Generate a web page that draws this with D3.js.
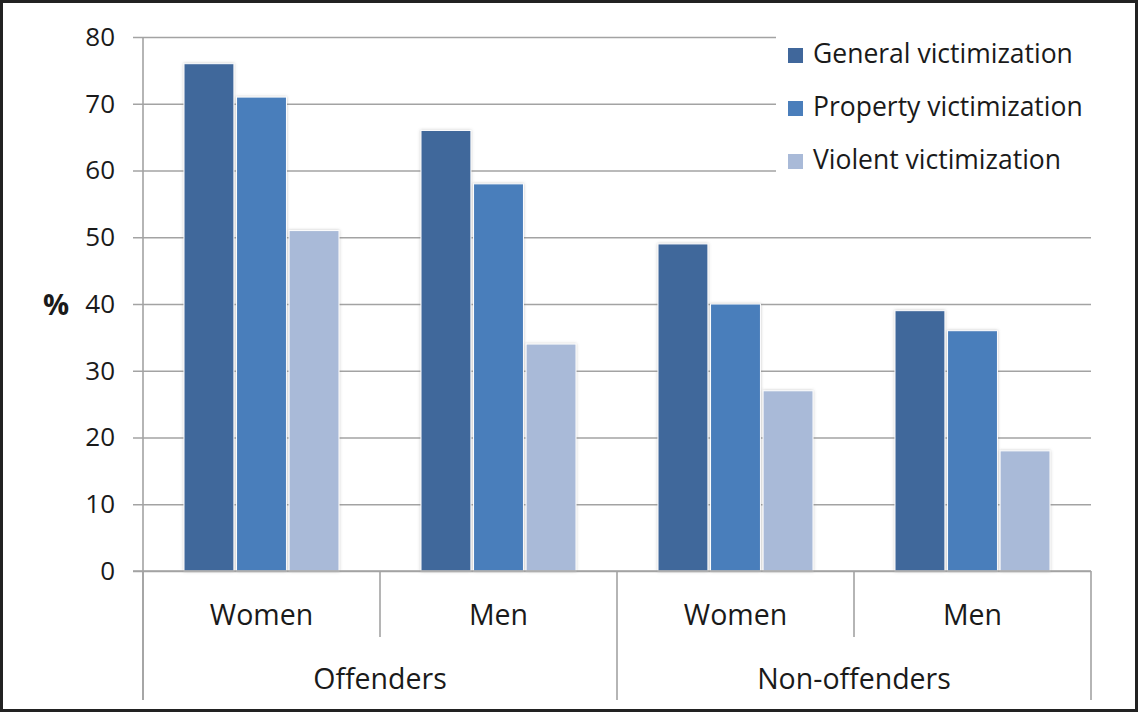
<!DOCTYPE html>
<html>
<head>
<meta charset="utf-8">
<script src="https://cdn.jsdelivr.net/npm/d3@7"></script>
<style>
  html, body { margin: 0; padding: 0; background: #fff; }
  svg { display: block; }
  text { font-family: "Open Sans", "Noto Sans", sans-serif; fill: #1a1a1a; }
</style>
</head>
<body>
<svg id="chart" width="1139" height="713"></svg>
<script>
// Victimization rates (%) by offender status and sex
const groups = ["Offenders", "Non-offenders"];
const sexes = ["Women", "Men"];
const series = ["General victimization", "Property victimization", "Violent victimization"];
const generalValues = [76, 66, 49, 39];
const propertyValues = [71, 58, 40, 36];
const violentValues = [51, 34, 27, 18];
const yTicks = [0, 10, 20, 30, 40, 50, 60, 70, 80];
const colors = ["#40679b", "#4a7ebb", "#a9bad8"];

const seriesValues = [generalValues, propertyValues, violentValues];
// one entry per group/sex column
const columns = [];
groups.forEach((g, gi) => sexes.forEach((s, si) => columns.push({ id: g + "|" + s, group: g, sex: s, idx: gi * sexes.length + si })));

const svg = d3.select("#chart");

// frame around the figure
svg.append("rect")
  .attr("x", 1.5).attr("y", 1.5).attr("width", 1135).attr("height", 709)
  .attr("fill", "#fff").attr("stroke", "#222").attr("stroke-width", 3);

const defs = svg.append("defs");
const shadow = defs.append("filter").attr("id", "barShadow")
  .attr("x", "-10%").attr("y", "-10%").attr("width", "120%").attr("height", "120%");
shadow.append("feDropShadow").attr("dx", 0).attr("dy", 0).attr("stdDeviation", 1.6)
  .attr("flood-color", "#7a7a7a").attr("flood-opacity", 0.45);

const plotLeft = 143, plotRight = 1091, plotTop = 37, plotBottom = 571;

const x0 = d3.scaleBand().domain(columns.map(c => c.id)).range([plotLeft, plotRight]).padding(0);
const x1 = d3.scaleBand().domain(series).range([41, x0.bandwidth() - 41]).paddingInner(0.05);
const y = d3.scaleLinear().domain([0, 80]).range([plotBottom, plotTop]);

const gridColor = "#a3a3a3";

// gridlines + y ticks
const yAxis = d3.axisLeft(y).tickValues(yTicks).tickSize(-(plotRight - plotLeft)).tickSizeOuter(0).tickPadding(28);
const yg = svg.append("g").attr("transform", `translate(${plotLeft},0)`).call(yAxis);
yg.select(".domain").remove();
yg.selectAll(".tick line")
  .attr("x1", -10)
  .attr("stroke", gridColor).attr("stroke-width", 1.6);
yg.selectAll(".tick text")
  .attr("font-size", 26).style("font-family", "'Open Sans', sans-serif").attr("fill", "#1a1a1a");

// "%" axis title
svg.append("text").attr("x", 56).attr("y", 315).attr("text-anchor", "middle")
  .attr("font-size", 29).attr("font-weight", "bold").text("%");

// legend backdrop hides gridlines behind it
svg.append("rect").attr("x", 776).attr("y", 24).attr("width", plotRight - 776).attr("height", 162).attr("fill", "#fff");

// vertical axis line
svg.append("line").attr("x1", plotLeft).attr("x2", plotLeft).attr("y1", plotTop).attr("y2", 700)
  .attr("stroke", gridColor).attr("stroke-width", 1.6);

// bars
const cols = svg.append("g").selectAll("g").data(columns).join("g")
  .attr("transform", d => `translate(${x0(d.id)},0)`);
cols.selectAll("rect")
  .data(c => series.map((s, si) => ({ s, si, v: seriesValues[si][c.idx] })))
  .join("rect")
  .attr("x", d => x1(d.s))
  .attr("y", d => y(d.v))
  .attr("width", x1.bandwidth())
  .attr("height", d => y(0) - y(d.v))
  .attr("fill", d => colors[d.si])
  .attr("stroke", "#fff").attr("stroke-width", 1)
  .attr("filter", "url(#barShadow)");

// baseline
svg.append("line").attr("x1", plotLeft - 10).attr("x2", plotRight).attr("y1", y(0)).attr("y2", y(0))
  .attr("stroke", gridColor).attr("stroke-width", 1.6);

// category separators: inner (sex) short, outer (group) long
const boundaries = d3.range(columns.length + 1).map(i => plotLeft + i * x0.bandwidth());
boundaries.forEach((bx, i) => {
  const outer = i % sexes.length === 0;
  svg.append("line").attr("x1", bx).attr("x2", bx).attr("y1", y(0)).attr("y2", outer ? 700 : 637)
    .attr("stroke", gridColor).attr("stroke-width", 1.6);
});

// sex labels
svg.append("g").selectAll("text").data(columns).join("text")
  .attr("x", d => x0(d.id) + x0.bandwidth() / 2)
  .attr("y", 625).attr("text-anchor", "middle").attr("font-size", 28.5)
  .text(d => d.sex);

// group labels
svg.append("g").selectAll("text").data(groups).join("text")
  .attr("x", (g, gi) => plotLeft + (gi * sexes.length + sexes.length / 2) * x0.bandwidth())
  .attr("y", 689).attr("text-anchor", "middle").attr("font-size", 28.5)
  .text(g => g);

// legend
const legend = svg.append("g").selectAll("g").data(series).join("g")
  .attr("transform", (d, i) => `translate(788,${63 + i * 53})`);
legend.append("rect").attr("x", 0).attr("y", -15).attr("width", 15).attr("height", 15)
  .attr("fill", (d, i) => colors[i]);
legend.append("text").attr("x", 25).attr("y", 0).attr("font-size", 26.5).text(d => d);
</script>
</body>
</html>
